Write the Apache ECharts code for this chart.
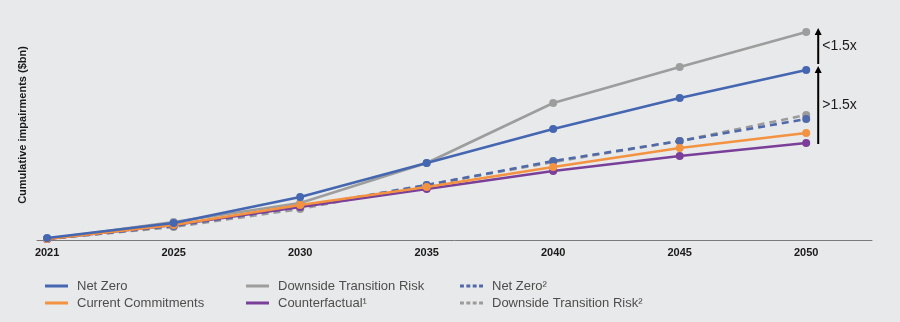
<!DOCTYPE html>
<html>
<head>
<meta charset="utf-8">
<script src="https://cdn.jsdelivr.net/npm/echarts@6/dist/echarts.min.js"></script>
<style>
  html, body { margin: 0; padding: 0; background: #e8e9eb; }
  #chart { width: 900px; height: 322px; }
</style>
</head>
<body>
<div id="chart"></div>
<script>
// Scenario years shown along the horizontal axis
const years = ['2021', '2025', '2030', '2035', '2040', '2045', '2050'];

// Cumulative impairments by scenario ($bn, indicative scale)
const netZero            = [1.0, 8.5, 21.5, 38.5, 55.5, 71.0, 85.0];
const currentCommitments = [0.5, 7.5, 17.5, 26.5, 36.5, 46.0, 53.5];
const downsideRisk       = [0.5, 9.0, 18.5, 38.5, 68.5, 86.5, 104.0];
const counterfactual     = [0.5, 7.5, 16.5, 25.5, 34.5, 42.0, 48.5];
const netZeroAlt         = [0.5, 7.0, 16.5, 27.5, 39.5, 49.5, 60.5];
const downsideRiskAlt    = [0.5, 6.5, 15.5, 27.5, 39.0, 49.5, 62.5];

// Multiplier annotations at 2050
const multipliers = [
  { from: netZero[6], to: downsideRisk[6], label: '<1.5x' },
  { from: counterfactual[6], to: netZero[6], label: '>1.5x' }
];

const C = {
  blue: '#4566b0',
  orange: '#f39240',
  gray: '#9d9d9d',
  purple: '#7a3f98',
  blueDash: '#4f69a9',
  grayDash: '#9b9b9b'
};

const pts = arr => arr.map((v, i) => [i, v]);

function lineSeries(name, data, color, dashed, z) {
  return {
    name: name,
    type: 'line',
    data: pts(data),
    z: z,
    symbol: 'circle',
    symbolSize: 8,
    showSymbol: true,
    itemStyle: { color: color },
    lineStyle: { color: color, width: 2.6, type: dashed ? [7, 5] : 'solid' },
    emphasis: { disabled: true },
    animation: false
  };
}

const solidIcon = 'rect';
const dashIcon = 'path://M0,0h4v3h-4z M6.5,0h4v3h-4z M13,0h4v3h-4z M19.5,0h4v3h-4z';

function legendCol(left, items) {
  return {
    orient: 'vertical',
    left: left,
    top: 274,
    itemWidth: 23,
    itemHeight: 3,
    itemGap: 3,
    symbolKeepAspect: false,
    selectedMode: false,
    textStyle: {
      fontFamily: 'Liberation Sans, Arial, sans-serif',
      fontSize: 13,
      color: '#4d4d4d',
      lineHeight: 14,
      padding: [0, 0, 0, 4]
    },
    data: items
  };
}

const chart = echarts.init(document.getElementById('chart'), null, { renderer: 'canvas' });

chart.setOption({
  backgroundColor: '#e8e9eb',
  animation: false,
  grid: { left: 37, right: 28, top: 10, bottom: 82 },
  xAxis: {
    type: 'value',
    min: -0.08,
    max: 6.52,
    splitLine: { show: false },
    axisTick: { show: false },
    axisLine: { show: true, onZero: false, lineStyle: { color: '#7a7a7a', width: 1 } },
    axisLabel: {
      customValues: [0, 1, 2, 3, 4, 5, 6],
      formatter: v => years[Math.round(v)],
      fontFamily: 'Liberation Sans, Arial, sans-serif',
      fontWeight: 'bold',
      fontSize: 11,
      color: '#1a1a1a',
      margin: 7
    }
  },
  yAxis: {
    type: 'value',
    min: 0,
    max: 115,
    name: 'Cumulative impairments ($bn)',
    nameLocation: 'middle',
    nameRotate: 90,
    nameGap: 9,
    nameTextStyle: {
      fontFamily: 'Liberation Sans, Arial, sans-serif',
      fontWeight: 'bold',
      fontSize: 11,
      color: '#1a1a1a'
    },
    axisLine: { show: false },
    axisTick: { show: false },
    axisLabel: { show: false },
    splitLine: { show: false }
  },
  legend: [
    legendCol(40, [
      { name: 'Net Zero', icon: solidIcon },
      { name: 'Current Commitments', icon: solidIcon }
    ]),
    legendCol(241, [
      { name: 'Downside Transition Risk', icon: solidIcon },
      { name: 'Counterfactual¹', icon: solidIcon }
    ]),
    legendCol(455, [
      { name: 'Net Zero²', icon: dashIcon },
      { name: 'Downside Transition Risk²', icon: dashIcon }
    ])
  ],
  series: [
    lineSeries('Downside Transition Risk²', downsideRiskAlt, C.grayDash, true, 2),
    lineSeries('Net Zero²', netZeroAlt, C.blueDash, true, 3),
    lineSeries('Downside Transition Risk', downsideRisk, C.gray, false, 4),
    lineSeries('Counterfactual¹', counterfactual, C.purple, false, 5),
    lineSeries('Current Commitments', currentCommitments, C.orange, false, 6),
    lineSeries('Net Zero', netZero, C.blue, false, 7),
    {
      name: 'multipliers',
      type: 'custom',
      z: 8,
      silent: true,
      data: multipliers.map(m => [6, m.from, m.to]),
      renderItem: function (params, api) {
        const m = multipliers[params.dataIndex];
        const base = api.coord([api.value(0), api.value(1)]);
        const tipPt = api.coord([api.value(0), api.value(2)]);
        const x = base[0] + 12;
        const tip = tipPt[1] - 4;
        const start = params.dataIndex === 0 ? base[1] - 6 : base[1] + 1;
        return {
          type: 'group',
          children: [
            {
              type: 'line',
              shape: { x1: x, y1: start, x2: x, y2: tip + 5 },
              style: { stroke: '#000', lineWidth: 2 }
            },
            {
              type: 'polygon',
              shape: { points: [[x, tip], [x - 3.5, tip + 7], [x + 3.5, tip + 7]] },
              style: { fill: '#000' }
            },
            {
              type: 'text',
              style: {
                x: x + 4,
                y: (start + tip) / 2,
                text: m.label,
                fill: '#1a1a1a',
                fontSize: 14,
                fontFamily: 'Liberation Sans, Arial, sans-serif',
                verticalAlign: 'middle',
                align: 'left'
              }
            }
          ]
        };
      }
    }
  ]
});
</script>
</body>
</html>
